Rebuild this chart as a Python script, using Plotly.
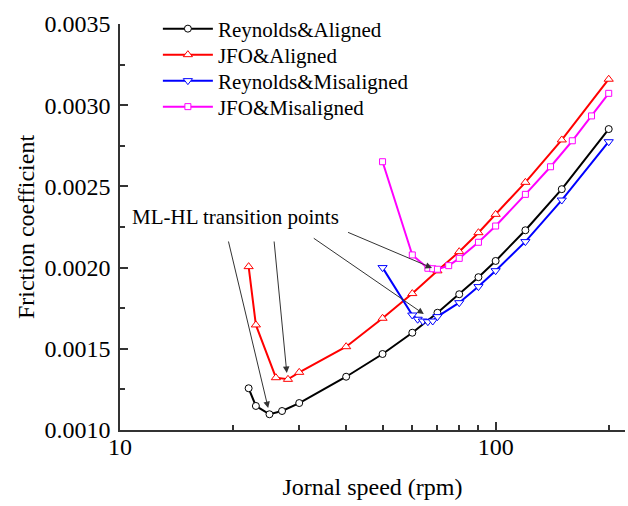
import numpy as np
import plotly.graph_objects as go

# ---------------- data ----------------
speed_ra = [22, 23, 25, 27, 30, 40, 50, 60, 70, 80, 90, 100, 120, 150, 200]
fric_ra = [0.001257, 0.001148, 0.001097, 0.001117, 0.001166, 0.001328, 0.001468,
           0.001599, 0.001722, 0.001836, 0.001941, 0.002041, 0.002230, 0.002483, 0.002853]

speed_ja = [22, 23, 26, 28, 30, 40, 50, 60, 70, 80, 90, 100, 120, 150, 200]
fric_ja = [0.002006, 0.001647, 0.001322, 0.001312, 0.001355, 0.001513, 0.001688,
           0.001840, 0.001980, 0.002098, 0.002215, 0.002328, 0.002525, 0.002786, 0.003160]

speed_rm = [50, 60, 62, 64, 66, 68, 70, 80, 90, 100, 120, 150, 200]
fric_rm = [0.002000, 0.001708, 0.001682, 0.001671, 0.001667, 0.001671, 0.001698,
           0.001784, 0.001883, 0.001981, 0.002160, 0.002416, 0.002775]

speed_jm = [50, 60, 66, 68, 70, 75, 80, 90, 100, 120, 140, 160, 180, 200]
fric_jm = [0.002652, 0.002078, 0.001996, 0.001993, 0.001990, 0.002012, 0.002057,
           0.002156, 0.002256, 0.002451, 0.002621, 0.002781, 0.002934, 0.003073]

series_names = ["Reynolds&Aligned", "JFO&Aligned", "Reynolds&Misaligned", "JFO&Misaligned"]
x_major_ticks = [10, 100]
x_minor_ticks = [20, 30, 40, 50, 60, 70, 80, 90, 200]
y_ticks = [0.0010, 0.0015, 0.0020, 0.0025, 0.0030, 0.0035]

label_text = "ML-HL transition points"

FONT = "Liberation Serif, Times New Roman, serif"

fig = go.Figure()
styles = [
    (speed_ra, fric_ra, "#000000", "circle", 7),
    (speed_ja, fric_ja, "#ff0000", "triangle-up", 8),
    (speed_rm, fric_rm, "#0000ff", "triangle-down", 8),
    (speed_jm, fric_jm, "#ff00ff", "square", 6),
]
legend_ids = ["legend", "legend2", "legend3", "legend4"]
for (xs, ys, col, sym, sz), name, lg in zip(styles, series_names, legend_ids):
    fig.add_trace(go.Scatter(
        x=xs, y=ys, name=name, mode="lines+markers", legend=lg,
        line=dict(color=col, width=2),
        marker=dict(symbol=sym, size=sz, color="white",
                    line=dict(color=col, width=1)),
    ))

# arrows: (tail speed, tail f, tip speed, tip f)
arrows = [
    (19.4, 0.00217, 24.8, 0.001135),
    (25.7, 0.00217, 27.8, 0.001351),
    (32.5, 0.002187, 64.4, 0.001714),
    (40.1, 0.002221, 67.7, 0.001998),
]
for tx, ty, hx, hy in arrows:
    fig.add_annotation(
        x=np.log10(hx), y=hy, ax=np.log10(tx), ay=ty,
        xref="x", yref="y", axref="x", ayref="y",
        showarrow=True, arrowhead=2, arrowsize=1.3, arrowwidth=1,
        arrowcolor="#333333", text="",
    )
fig.add_annotation(
    x=np.log10(10.6), y=0.002314, xref="x", yref="y",
    text=label_text, showarrow=False, xanchor="left", yanchor="middle",
    font=dict(family=FONT, size=21, color="black"),
)

axis_common = dict(
    showline=True, linecolor="#333333", linewidth=1.5,
    ticks="inside", tickcolor="#333333", tickwidth=1.5, ticklen=8,
    showgrid=False, zeroline=False, mirror=False,
    tickfont=dict(family=FONT, size=24, color="black"),
)

fig.update_xaxes(
    type="log", range=[1, np.log10(221)],
    tickmode="array", tickvals=x_major_ticks, ticktext=[str(v) for v in x_major_ticks],
    minor=dict(tickmode="array", tickvals=x_minor_ticks, ticks="inside", ticklen=5,
               tickcolor="#333333", tickwidth=1.5, showgrid=False),
    title=dict(text="Jornal speed (rpm)", font=dict(family=FONT, size=24, color="black"),
               standoff=20),
    ticklabelstandoff=-6,
    **axis_common,
)
fig.update_yaxes(
    range=[0.0010, 0.0035],
    tickmode="array", tickvals=y_ticks, ticktext=[f"{v:.4f}" for v in y_ticks],
    minor=dict(dtick=0.00025, ticks="inside", ticklen=5,
               tickcolor="#333333", tickwidth=1.5, showgrid=False),
    title=dict(text="Friction coefficient", font=dict(family=FONT, size=24, color="black"),
               standoff=3),
    ticklabelstandoff=3,
    **axis_common,
)

row_centers = [0.9877, 0.9236, 0.8596, 0.7956]
legend_layout = {}
for lg, yc in zip(legend_ids, row_centers):
    legend_layout[lg] = dict(
        x=0.075, y=yc, xanchor="left", yanchor="middle",
        font=dict(family=FONT, size=21, color="black"),
        bgcolor="rgba(0,0,0,0)", itemwidth=50,
    )

fig.update_layout(
    width=628, height=506,
    margin=dict(l=120, r=3, t=24, b=76, autoexpand=False),
    paper_bgcolor="white", plot_bgcolor="white",
    font=dict(family=FONT, color="black"),
    showlegend=True,
    **legend_layout,
)

fig.write_html("out.html", config={"displayModeBar": False},
               post_script="document.body.style.margin='0';document.body.style.padding='0';")
